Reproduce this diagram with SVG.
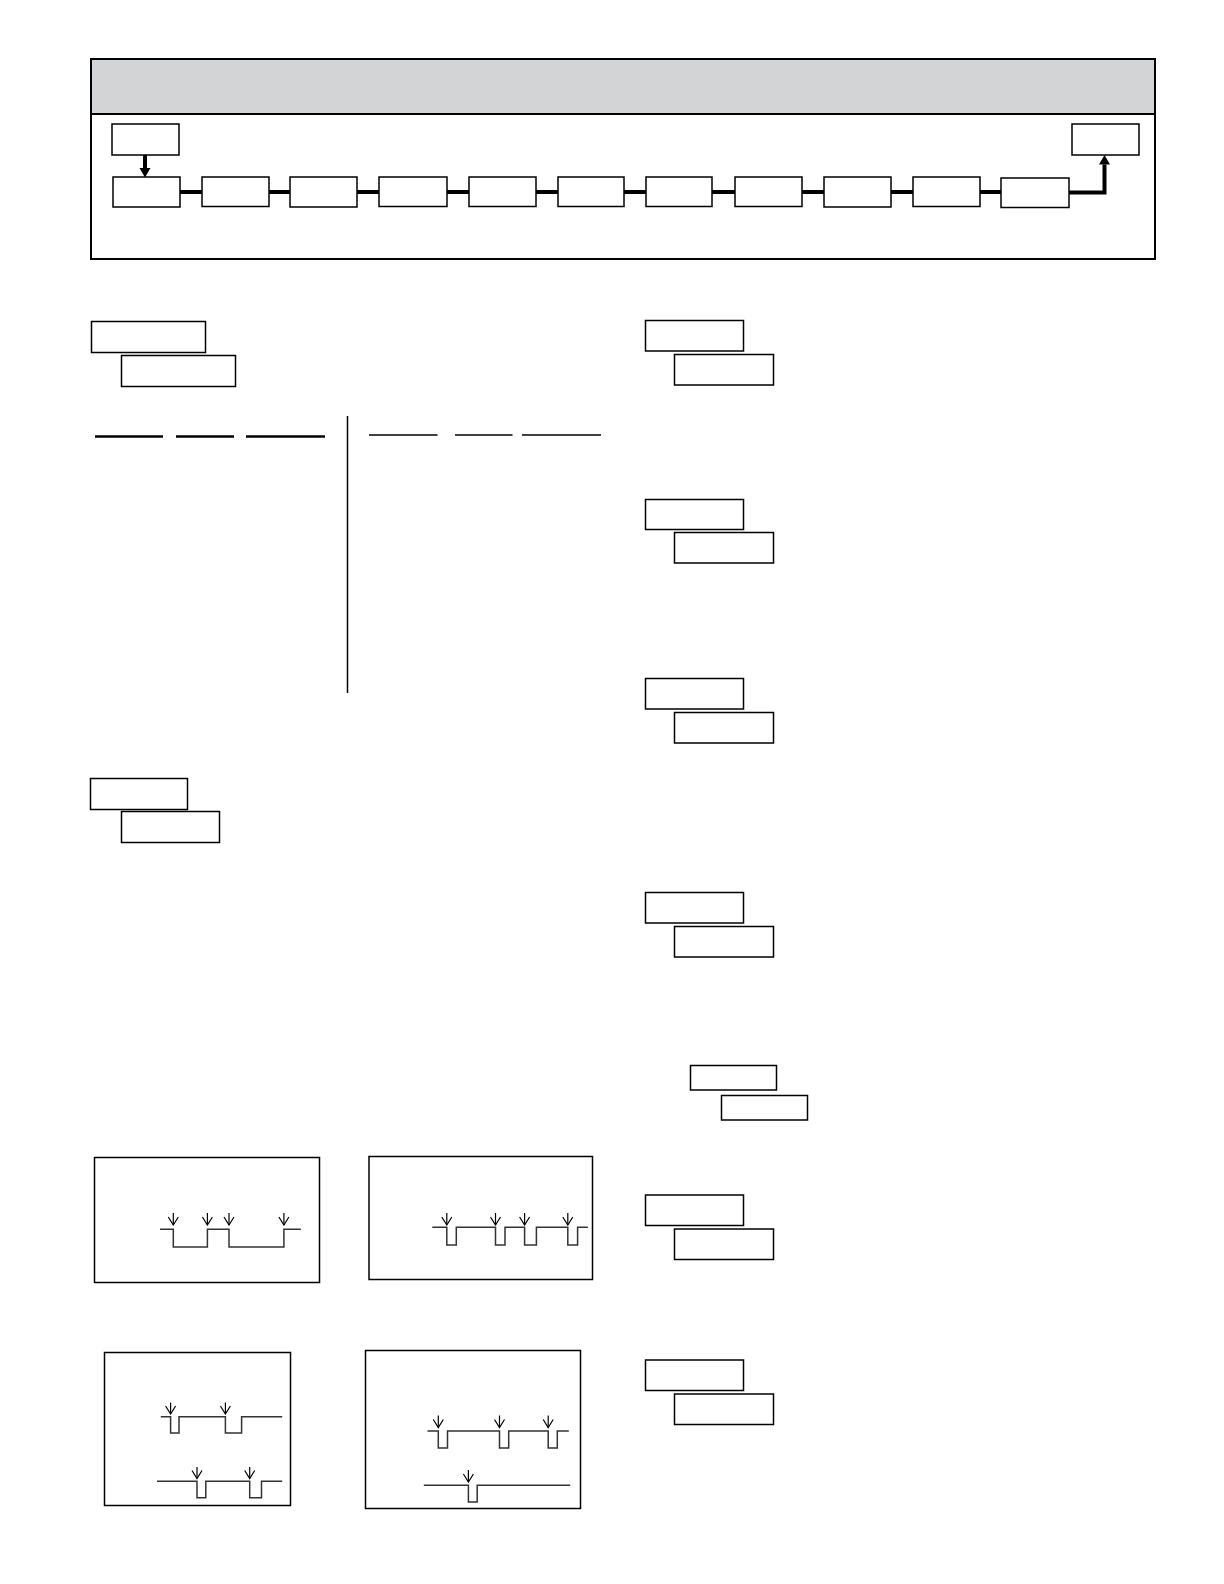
<svg xmlns="http://www.w3.org/2000/svg" width="1224" height="1584" viewBox="0 0 1224 1584">
<style>
.box{fill:#fff;stroke:#000;stroke-width:1.5}
.frame{fill:none;stroke:#000;stroke-width:2}
.thick{fill:none;stroke:#000;stroke-width:4}
.ul{stroke:#000;stroke-width:2.5}
.ul2{stroke:#000;stroke-width:1.5}
.wave{fill:none;stroke:#333;stroke-width:1.5}
.arr{stroke:#000;stroke-width:1.2;marker-end:url(#v)}
.wbox{fill:#fff;stroke:#000;stroke-width:1.5}
</style>
<defs>
<marker id="v" viewBox="-9 -6 10 12" refX="0" refY="0" markerWidth="10" markerHeight="12" markerUnits="userSpaceOnUse" orient="auto">
<path d="M-8,-5 L0,0 L-8,5" fill="none" stroke="#000" stroke-width="1.2"/>
</marker>
<marker id="a" viewBox="0 -6 10 12" refX="0" refY="0" markerWidth="10" markerHeight="12" markerUnits="userSpaceOnUse" orient="auto">
<path d="M0,-5.5 L9.5,0 L0,5.5 z" fill="#000"/>
</marker>
</defs>
<rect x="0" y="0" width="1224" height="1584" fill="#fff"/>

<g id="header">
<rect x="91" y="59" width="1064" height="55" fill="#d3d4d6" stroke="none"/>
<rect class="frame" x="91" y="59" width="1064" height="200"/>
<line x1="91" y1="114" x2="1155" y2="114" stroke="#000" stroke-width="2"/>
</g>

<g id="connectors">
<line class="thick" x1="145" y1="155" x2="145" y2="168" marker-end="url(#a)"/>
<line class="thick" x1="180" y1="192" x2="202" y2="192"/>
<line class="thick" x1="269" y1="192" x2="290" y2="192"/>
<line class="thick" x1="357" y1="192" x2="379" y2="192"/>
<line class="thick" x1="447" y1="192" x2="469" y2="192"/>
<line class="thick" x1="536" y1="192" x2="558" y2="192"/>
<line class="thick" x1="624" y1="192" x2="647" y2="192"/>
<line class="thick" x1="712" y1="192" x2="735" y2="192"/>
<line class="thick" x1="802" y1="192" x2="824" y2="192"/>
<line class="thick" x1="891" y1="192" x2="913" y2="192"/>
<line class="thick" x1="980" y1="192" x2="1001" y2="192"/>
<polyline class="thick" points="1069,192.5 1104.5,192.5 1104.5,164.5" marker-end="url(#a)"/>
</g>

<g id="n-start"><rect class="box" x="112" y="124" width="67" height="31"/></g>
<g id="n-end"><rect class="box" x="1072" y="124" width="67" height="31"/></g>
<g id="n1"><rect class="box" x="113" y="177" width="67" height="30"/></g>
<g id="n2"><rect class="box" x="202" y="177" width="67" height="29.5"/></g>
<g id="n3"><rect class="box" x="290" y="177" width="67" height="30"/></g>
<g id="n4"><rect class="box" x="379" y="177" width="68" height="29.5"/></g>
<g id="n5"><rect class="box" x="469" y="177" width="67" height="29.5"/></g>
<g id="n6"><rect class="box" x="558" y="177" width="66" height="29.5"/></g>
<g id="n7"><rect class="box" x="646" y="177" width="66" height="29.5"/></g>
<g id="n8"><rect class="box" x="735" y="177" width="67" height="29.5"/></g>
<g id="n9"><rect class="box" x="824" y="177" width="67" height="30"/></g>
<g id="n10"><rect class="box" x="913" y="177" width="67" height="29.5"/></g>
<g id="n11"><rect class="box" x="1001" y="178" width="68" height="29.5"/></g>

<g id="p-left1">
<rect class="box" x="91.5" y="321.5" width="114" height="31"/>
<rect class="box" x="121.5" y="355.5" width="114" height="31"/>
</g>
<g id="table">
<line class="ul" x1="95" y1="436.5" x2="163" y2="436.5"/>
<line class="ul" x1="176" y1="436.5" x2="234" y2="436.5"/>
<line class="ul" x1="246" y1="436.5" x2="325" y2="436.5"/>
<line x1="347.5" y1="416" x2="347.5" y2="693" stroke="#000" stroke-width="1.5"/>
<line class="ul2" x1="369" y1="435" x2="437.5" y2="435"/>
<line class="ul2" x1="455" y1="435" x2="512.5" y2="435"/>
<line class="ul2" x1="522" y1="435" x2="601" y2="435"/>
</g>
<g id="p-left2">
<rect class="box" x="90.5" y="778.5" width="97" height="31"/>
<rect class="box" x="121.5" y="811.5" width="98" height="31"/>
</g>

<g id="p-r1">
<rect class="box" x="645.5" y="320.5" width="98" height="30.5"/>
<rect class="box" x="674.5" y="354.5" width="99" height="30.5"/>
</g>
<g id="p-r2">
<rect class="box" x="645.5" y="499.5" width="98" height="30"/>
<rect class="box" x="674.5" y="532.5" width="99" height="30.5"/>
</g>
<g id="p-r3">
<rect class="box" x="645.5" y="678.5" width="98" height="30.5"/>
<rect class="box" x="674.5" y="712.5" width="99" height="30.5"/>
</g>
<g id="p-r4">
<rect class="box" x="645.5" y="892.5" width="98" height="30.5"/>
<rect class="box" x="674.5" y="926.5" width="99" height="30.5"/>
</g>
<g id="p-r5">
<rect class="box" x="690.5" y="1065.5" width="86" height="24.5"/>
<rect class="box" x="721.5" y="1095.5" width="86" height="24.5"/>
</g>
<g id="p-r6">
<rect class="box" x="645.5" y="1195" width="98" height="30.5"/>
<rect class="box" x="674.5" y="1229" width="99" height="30.5"/>
</g>
<g id="p-r7">
<rect class="box" x="645.5" y="1360" width="98" height="30.5"/>
<rect class="box" x="674.5" y="1394" width="99" height="30.5"/>
</g>

<g id="w1">
<rect class="wbox" x="94.5" y="1157.5" width="225" height="125"/>
<polyline class="wave" points="160,1229.3 173.3,1229.3 173.3,1247 207.4,1247 207.4,1229.3 229,1229.3 229,1247 283.9,1247 283.9,1229.3 300.8,1229.3"/>
<line class="arr" x1="173.3" y1="1213" x2="173.3" y2="1225"/>
<line class="arr" x1="207.4" y1="1213" x2="207.4" y2="1225"/>
<line class="arr" x1="229" y1="1213" x2="229" y2="1225"/>
<line class="arr" x1="283.9" y1="1213" x2="283.9" y2="1225"/>
</g>
<g id="w2">
<rect class="wbox" x="369" y="1156.5" width="223.5" height="123"/>
<polyline class="wave" points="432.3,1227.3 446.8,1227.3 446.8,1245 456.3,1245 456.3,1227.3 495.5,1227.3 495.5,1245 505,1245 505,1227.3 524.6,1227.3 524.6,1245 536.4,1245 536.4,1227.3 567.8,1227.3 567.8,1245 577.6,1245 577.6,1227.3 587.8,1227.3"/>
<line class="arr" x1="446.8" y1="1213" x2="446.8" y2="1225"/>
<line class="arr" x1="495.5" y1="1213" x2="495.5" y2="1225"/>
<line class="arr" x1="524.6" y1="1213" x2="524.6" y2="1225"/>
<line class="arr" x1="567.8" y1="1213" x2="567.8" y2="1225"/>
</g>
<g id="w3">
<rect class="wbox" x="104.5" y="1352.5" width="186" height="153"/>
<polyline class="wave" points="160.8,1416.7 170.6,1416.7 170.6,1433 179,1433 179,1416.7 225.4,1416.7 225.4,1433 241.6,1433 241.6,1416.7 282.2,1416.7"/>
<line class="arr" x1="170.6" y1="1402.5" x2="170.6" y2="1414"/>
<line class="arr" x1="225.4" y1="1402.5" x2="225.4" y2="1414"/>
<polyline class="wave" points="157,1481.3 197,1481.3 197,1497.7 205.8,1497.7 205.8,1481.3 249.7,1481.3 249.7,1497.7 261.5,1497.7 261.5,1481.3 282.2,1481.3"/>
<line class="arr" x1="197" y1="1467" x2="197" y2="1478.5"/>
<line class="arr" x1="249.7" y1="1467" x2="249.7" y2="1478.5"/>
</g>
<g id="w4">
<rect class="wbox" x="365.5" y="1350.5" width="215" height="158"/>
<polyline class="wave" points="427.5,1431 438.3,1431 438.3,1448 447.5,1448 447.5,1431 499.5,1431 499.5,1448 508.7,1448 508.7,1431 548.2,1431 548.2,1448 557.3,1448 557.3,1431 568.8,1431"/>
<line class="arr" x1="438.3" y1="1415.5" x2="438.3" y2="1427.5"/>
<line class="arr" x1="499.5" y1="1415.5" x2="499.5" y2="1427.5"/>
<line class="arr" x1="548.2" y1="1415.5" x2="548.2" y2="1427.5"/>
<polyline class="wave" points="423.8,1485.3 468.4,1485.3 468.4,1502 477.2,1502 477.2,1485.3 570.2,1485.3"/>
<line class="arr" x1="468.4" y1="1470" x2="468.4" y2="1482"/>
</g>
</svg>
